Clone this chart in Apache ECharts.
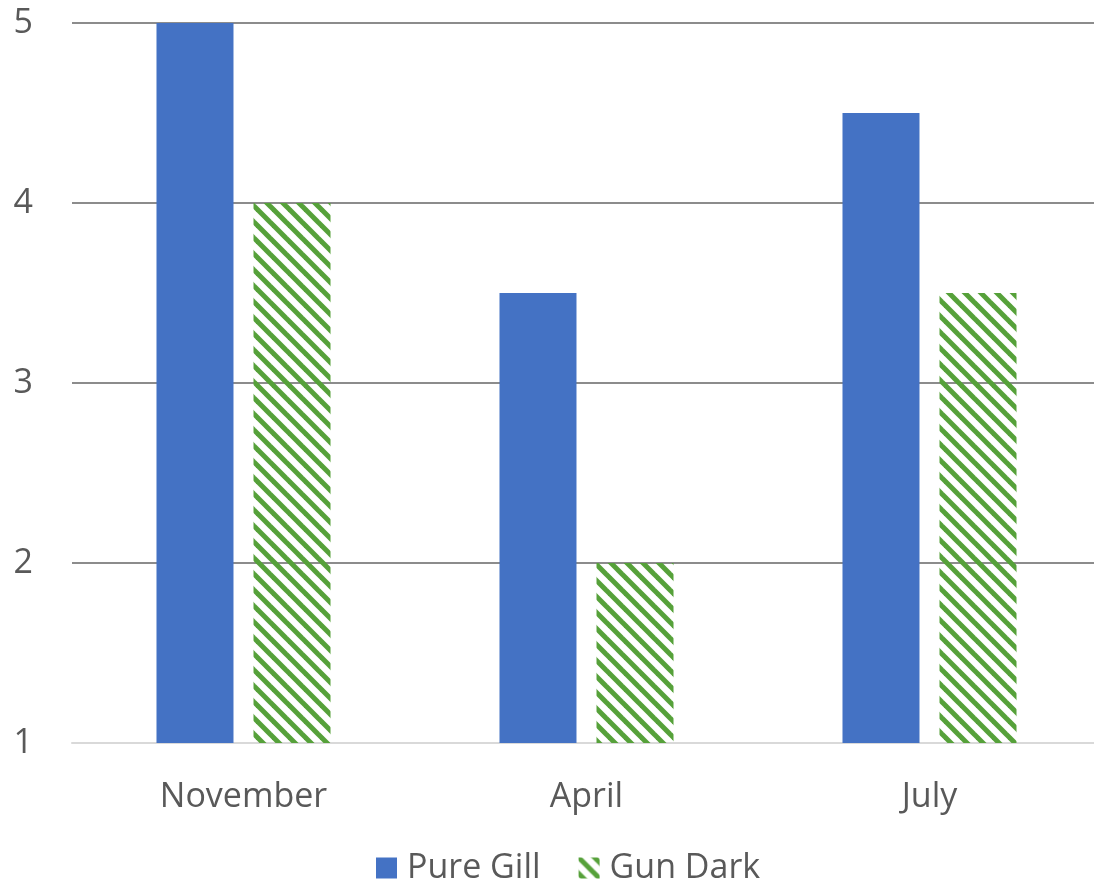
<!DOCTYPE html>
<html>
<head>
<meta charset="utf-8">
<script src="https://cdn.jsdelivr.net/npm/echarts@6/dist/echarts.min.js"></script>
<style>
html,body{margin:0;padding:0;background:#fff;}
#main{width:1094px;height:883px;}
</style>
</head>
<body>
<div id="main"></div>
<script>
const categories = ['November', 'April', 'July'];
const pureGill = [5, 3.5, 4.5];
const gunDark = [4, 2, 3.5];
const yTicks = [1, 2, 3, 4, 5];

function makeHatch() {
  const c = document.createElement('canvas');
  c.width = 16; c.height = 16;
  const ctx = c.getContext('2d');
  ctx.strokeStyle = '#56A13A';
  ctx.lineWidth = 5;
  for (const k of [-16, 0, 16]) {
    ctx.beginPath();
    ctx.moveTo(k - 2, -2);
    ctx.lineTo(k + 18, 18);
    ctx.stroke();
  }
  return c;
}
const hatch = { image: makeHatch(), repeat: 'repeat' };

const chart = echarts.init(document.getElementById('main'));
chart.setOption({
  backgroundColor: '#fff',
  animation: false,
  grid: { left: 72, right: -7, top: 23, bottom: 140, outerBoundsMode: 'none', containLabel: false },
  legend: {
    left: 371, top: 846,
    itemWidth: 21, itemHeight: 21, itemGap: 38,
    textStyle: { fontFamily: 'Open Sans', fontSize: 34, color: '#595959', padding: [0, 0, 0, 5] },
    data: [
      { name: 'Pure Gill', icon: 'rect' },
      { name: 'Gun Dark', icon: 'rect' }
    ]
  },
  xAxis: {
    type: 'category',
    data: categories,
    axisTick: { show: false },
    axisLine: { lineStyle: { color: '#d9d9d9', width: 2 } },
    axisLabel: { fontFamily: 'Open Sans', fontSize: 34, color: '#595959', margin: 37 }
  },
  yAxis: {
    type: 'value',
    min: yTicks[0], max: yTicks[yTicks.length - 1], interval: 1,
    axisLine: { show: false },
    axisTick: { show: false },
    splitLine: { lineStyle: { color: '#666666', width: 1.5 } },
    axisLabel: { fontFamily: 'Open Sans', fontSize: 34, color: '#595959', margin: 39 }
  },
  series: [
    { name: 'Pure Gill', type: 'bar', data: pureGill, barWidth: 77, barGap: '26%',
      itemStyle: { color: '#4472C4' } },
    { name: 'Gun Dark', type: 'bar', data: gunDark, barWidth: 77,
      itemStyle: { color: hatch } }
  ]
});
</script>
</body>
</html>
